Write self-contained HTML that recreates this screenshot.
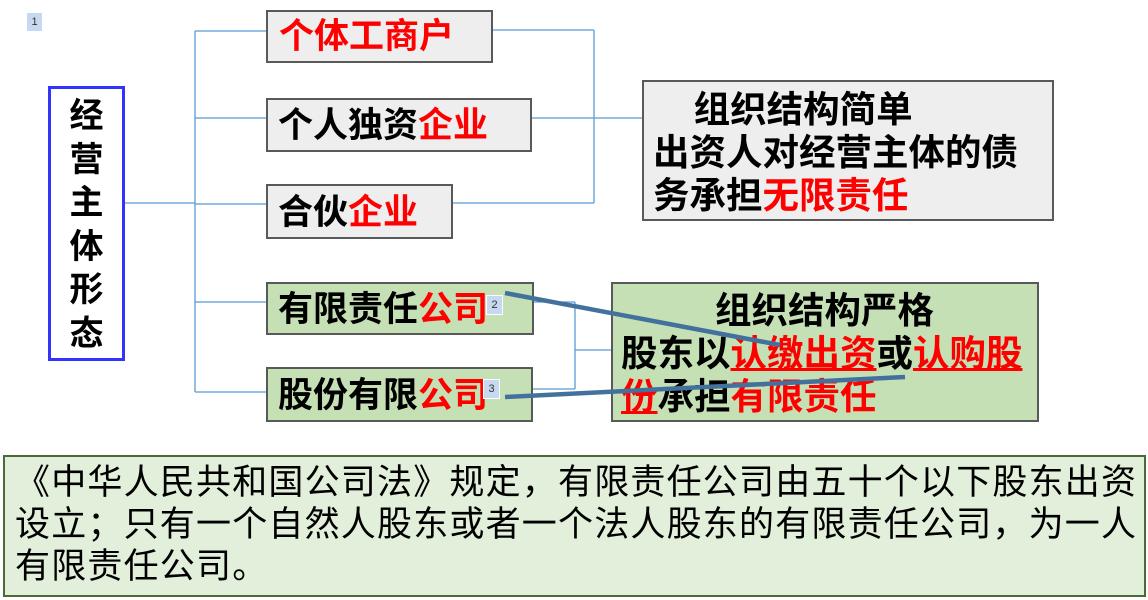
<!DOCTYPE html>
<html><head><meta charset="utf-8"><style>
body{margin:0;width:1148px;height:600px;background:#fff;position:relative;overflow:hidden;font-family:"Liberation Sans","Noto Sans CJK SC",sans-serif;}
.b{position:absolute;box-sizing:border-box;border:2px solid #595959;font-weight:bold;font-size:35px;line-height:1;white-space:nowrap;}
.g{background:#eeeeee;}
.gr{background:#c5e0b4;}
.r{color:#ff0000;}
.u{color:#ff0000;text-decoration:underline;}
.m{position:absolute;width:15px;height:18px;background:#c6d9f1;border:1px solid #fff;font-size:11px;text-align:center;line-height:18px;color:#333;font-weight:normal;}
</style></head><body>
<svg width="1148" height="600" style="position:absolute;left:0;top:0">
<g stroke="#5b9bd5" stroke-width="1.3" fill="none">
<line x1="124" y1="203" x2="195" y2="203"/>
<line x1="195" y1="31" x2="195" y2="392"/>
<line x1="195" y1="31" x2="266" y2="31"/>
<line x1="195" y1="118" x2="266" y2="118"/>
<line x1="195" y1="204" x2="266" y2="204"/>
<line x1="195" y1="302" x2="266" y2="302"/>
<line x1="195" y1="392" x2="266" y2="392"/>
<line x1="492" y1="30" x2="594" y2="30"/>
<line x1="594" y1="30" x2="594" y2="203"/>
<line x1="531" y1="118" x2="642" y2="118"/>
<line x1="452" y1="203" x2="594" y2="203"/>
<line x1="575" y1="302" x2="575" y2="389"/>
<line x1="533" y1="302" x2="575" y2="302"/>
<line x1="532" y1="389" x2="575" y2="389"/>
<line x1="575" y1="350" x2="611" y2="350"/>
</g>
</svg>
<div class="m" style="left:26px;top:12px">1</div>
<div class="b" style="left:48px;top:86px;width:77px;height:275px;border:3px solid #3333ff;font-size:34px;text-align:center;line-height:43.5px;padding-top:6px;background:#fff">经<br>营<br>主<br>体<br>形<br>态</div>
<div class="b g" style="left:266px;top:10px;width:227px;height:53px;padding:7px 0 0 11px" ><span class="r">个体工商户</span></div>
<div class="b g" style="left:266px;top:98px;width:266px;height:54px;padding:8px 0 0 10px">个人独资<span class="r">企业</span></div>
<div class="b g" style="left:266px;top:184px;width:187px;height:55px;padding:9px 0 0 10px">合伙<span class="r">企业</span></div>
<div class="b gr" style="left:266px;top:282px;width:268px;height:53px;padding:8px 0 0 10px">有限责任<span class="r">公司</span></div>
<div class="b gr" style="left:266px;top:367px;width:267px;height:55px;padding:9px 0 0 10px">股份有限<span class="r">公司</span></div>
<div class="b g" style="left:642px;top:80px;width:412px;height:141px;padding:6px 0 0 9px;line-height:43px;font-size:36.5px">&nbsp;&nbsp;&nbsp;&nbsp;组织结构简单<br>出资人对经营主体的债<br>务承担<span class="r">无限责任</span></div>
<div class="b gr" style="left:611px;top:282px;width:428px;height:140px;padding:5px 0 0 8px;line-height:43px;font-size:36.5px"><div style="text-align:center;padding-right:9px">组织结构严格</div>股东以<span class="u">认缴出资</span>或<span class="u">认购股</span><br><span class="u">份</span>承担<span class="r">有限责任</span></div>
<svg width="1148" height="600" style="position:absolute;left:0;top:0">
<g stroke="#41719c" stroke-width="4.5" stroke-linecap="butt">
<line x1="505" y1="293" x2="780" y2="345"/>
<line x1="505" y1="397" x2="905" y2="377"/>
</g></svg>
<div class="m" style="left:486px;top:295px">2</div>
<div class="m" style="left:483px;top:379px">3</div>
<div style="position:absolute;left:3px;top:455px;width:1143px;height:142px;box-sizing:border-box;border:2px solid #4a6b35;background:#e2efda;font-size:35px;line-height:42px;letter-spacing:1.2px;padding:5px 0 0 10px;white-space:nowrap;">《中华人民共和国公司法》规定，有限责任公司由五十个以下股东出资<br>设立；只有一个自然人股东或者一个法人股东的有限责任公司，为一人<br>有限责任公司。</div>
</body></html>
